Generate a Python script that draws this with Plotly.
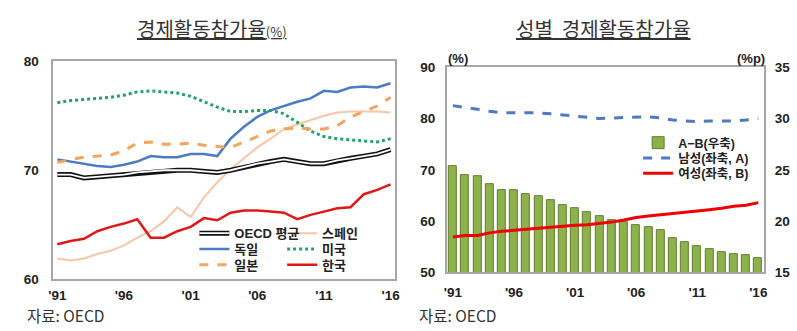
import plotly.graph_objects as go

# ---------------- data ----------------
years = list(range(1991, 2017))
tick_years = [1991, 1996, 2001, 2006, 2011, 2016]
tick_text = ["'91", "'96", "'01", "'06", "'11", "'16"]

oecd = [69.6, 69.6, 69.3, 69.4, 69.5, 69.6, 69.8, 69.9, 70.0, 70.0, 70.0, 69.9, 69.8,
        70.0, 70.3, 70.6, 70.8, 71.0, 70.8, 70.6, 70.6, 70.9, 71.1, 71.3, 71.5, 71.9]
spain = [61.9, 61.7, 61.9, 62.3, 62.6, 63.1, 63.8, 64.4, 65.3, 66.6, 65.7, 67.5, 68.9,
         70.1, 71.1, 72.1, 72.9, 73.8, 74.2, 74.6, 75.0, 75.3, 75.4, 75.4, 75.4, 75.3]
germany = [71.0, 70.8, 70.6, 70.4, 70.3, 70.5, 70.8, 71.3, 71.2, 71.2, 71.5, 71.5, 71.3,
           72.9, 74.0, 74.9, 75.5, 75.9, 76.3, 76.6, 77.3, 77.2, 77.6, 77.7, 77.6, 78.0]
usa = [76.2, 76.4, 76.5, 76.6, 76.7, 76.9, 77.2, 77.3, 77.2, 77.1, 76.8, 76.3, 75.8,
       75.4, 75.4, 75.5, 75.5, 75.2, 74.4, 73.6, 73.1, 72.9, 72.8, 72.7, 72.6, 72.9]
japan = [70.7, 71.0, 71.2, 71.3, 71.4, 71.8, 72.5, 72.6, 72.4, 72.4, 72.5, 72.3, 72.2,
         72.1, 72.6, 73.1, 73.6, 73.8, 73.9, 73.8, 73.8, 74.1, 74.9, 75.4, 75.9, 76.7]
korea = [63.2, 63.5, 63.7, 64.4, 64.8, 65.1, 65.5, 63.8, 63.8, 64.4, 64.8, 65.6, 65.4,
         66.1, 66.3, 66.3, 66.2, 66.1, 65.5, 65.9, 66.2, 66.5, 66.6, 67.8, 68.2, 68.7]

gap = [25.4, 24.5, 24.4, 23.6, 23.0, 23.0, 22.6, 22.4, 22.0, 21.6, 21.3, 20.9, 20.5,
       20.1, 19.9, 19.6, 19.4, 19.1, 18.3, 17.9, 17.6, 17.3, 17.0, 16.8, 16.7, 16.4]
male = [82.5, 82.2, 81.8, 81.4, 81.1, 81.1, 81.1, 81.1, 80.9, 80.7, 80.5, 80.2, 80.0,
        80.1, 80.2, 80.3, 80.3, 80.1, 79.7, 79.5, 79.4, 79.5, 79.5, 79.5, 79.7, 80.0]
female = [56.9, 57.2, 57.2, 57.7, 58.0, 58.2, 58.5, 58.7, 58.9, 59.0, 59.2, 59.3, 59.5,
          59.8, 60.2, 60.7, 61.0, 61.3, 61.5, 61.7, 61.9, 62.2, 62.5, 62.9, 63.1, 63.6]

# ---------------- figure ----------------
W, H = 797, 331
def px(x):
    return x / W
def py(y):
    return 1 - y / H

KR = "Noto Sans CJK KR"
LAT = "Liberation Sans, Noto Sans CJK KR"
FRAME = "#A6A6A6"

fig = go.Figure()

# left chart lines
fig.add_trace(go.Scatter(x=years, y=spain, mode="lines", name="스페인",
                         line=dict(color="#F6C6A6", width=2), legend="legend2",
                         xaxis="x", yaxis="y"))
fig.add_trace(go.Scatter(x=years, y=oecd, mode="lines", name="OECD 평균",
                         line=dict(color="#111111", width=5), legend="legend11",
                         xaxis="x", yaxis="y"))
fig.add_trace(go.Scatter(x=years, y=oecd, mode="lines", name=" ",
                         line=dict(color="#FFFFFF", width=1.8), legend="legend12",
                         xaxis="x", yaxis="y", hoverinfo="skip"))
fig.add_trace(go.Scatter(x=years, y=germany, mode="lines", name="독일",
                         line=dict(color="#4A7CC4", width=2.5), legend="legend3",
                         xaxis="x", yaxis="y"))
fig.add_trace(go.Scatter(x=years, y=usa, mode="lines", name="미국",
                         line=dict(color="#1FA463", width=3, dash="dot"), legend="legend4",
                         xaxis="x", yaxis="y"))
fig.add_trace(go.Scatter(x=years, y=japan, mode="lines", name="일본",
                         line=dict(color="#F2A55E", width=3, dash="dash"), legend="legend5",
                         xaxis="x", yaxis="y"))
fig.add_trace(go.Scatter(x=years, y=korea, mode="lines", name="한국",
                         line=dict(color="#E01818", width=2.5), legend="legend6",
                         xaxis="x", yaxis="y"))

# right chart
fig.add_trace(go.Bar(x=years, y=gap, name="A−B(우축)", width=0.66,
                     marker=dict(color="#8DB14B", line=dict(color="#5F7F2C", width=1)),
                     legend="legend7", xaxis="x2", yaxis="y2"))
fig.add_trace(go.Scatter(x=years, y=male, mode="lines", name="남성(좌축, A)",
                         line=dict(color="#4F79C0", width=3, dash="dash"), legend="legend8",
                         xaxis="x2", yaxis="y3"))
fig.add_trace(go.Scatter(x=years, y=female, mode="lines", name="여성(좌축, B)",
                         line=dict(color="#F00000", width=3), legend="legend9",
                         xaxis="x2", yaxis="y3"))

tickfont = dict(family="Liberation Sans", size=13.5, color="#222222", weight="bold")
axis_common = dict(showgrid=False, zeroline=False, showline=True, linecolor=FRAME,
                   linewidth=1.5, ticks="", tickfont=tickfont)

def leg(text_x, y, size=13):
    return dict(x=px(text_x - 40), y=py(y), xanchor="left", yanchor="middle",
                bgcolor="rgba(0,0,0,0)", borderwidth=0,
                font=dict(family=LAT, size=size, color="#222222", weight="bold"),
                orientation="v", itemclick=False, itemdoubleclick=False)

fig.update_layout(
    width=W, height=H, margin=dict(l=0, r=0, t=0, b=0),
    paper_bgcolor="white", plot_bgcolor="white",
    showlegend=True, bargap=0,
    xaxis=dict(domain=[px(49), px(395)], range=[1990.7, 2016.3], anchor="y",
               tickvals=tick_years, ticktext=tick_text, mirror=True,
               ticklabelstandoff=3, **axis_common),
    yaxis=dict(domain=[py(285), py(57)], range=[60, 80], dtick=10, anchor="x",
               mirror=True, ticklabelstandoff=10, **axis_common),
    xaxis2=dict(domain=[px(448), px(770)], range=[1990.5, 2016.5], anchor="y2",
                tickvals=tick_years, ticktext=tick_text, mirror=True,
                ticklabelstandoff=7, **axis_common),
    yaxis2=dict(domain=[py(278), py(63)], range=[15, 35], dtick=5, anchor="x2",
                side="right", ticklabelstandoff=6, **axis_common),
    yaxis3=dict(range=[50, 90], dtick=10, anchor="x2", overlaying="y2",
                side="left", ticklabelstandoff=7, **axis_common),
    legend11=leg(232, 237),
    legend12=leg(232, 237),
    legend2=leg(321, 237),
    legend3=leg(232, 253.5),
    legend4=leg(321, 253.5),
    legend5=leg(232, 270),
    legend6=leg(321, 270),
    legend7=leg(682, 142.5, 12.5),
    legend8=leg(682, 158.5, 12.5),
    legend9=leg(682, 174.5, 12.5),
)

title_font = dict(family=KR, size=20, color="#333333")
fig.add_annotation(x=px(210), y=py(22), xref="paper", yref="paper", showarrow=False,
                   xanchor="center", yanchor="middle", font=title_font,
                   text="<u>경제활동참가율<span style='font-size:13px'>(%)</span></u>")
fig.add_annotation(x=px(607), y=py(22), xref="paper", yref="paper", showarrow=False,
                   xanchor="center", yanchor="middle", font=title_font,
                   text="<u>성별  경제활동참가율</u>")

src_font = dict(family=KR, size=15.5, color="#333333")
fig.add_annotation(x=px(20), y=py(322.5), xref="paper", yref="paper", showarrow=False,
                   xanchor="left", yanchor="middle", font=src_font, text="자료: OECD")
fig.add_annotation(x=px(418), y=py(322.5), xref="paper", yref="paper", showarrow=False,
                   xanchor="left", yanchor="middle", font=src_font, text="자료: OECD")

unit_font = dict(family=LAT, size=13, color="#222222", weight="bold")
fig.add_annotation(x=px(459), y=py(54), xref="paper", yref="paper", showarrow=False,
                   xanchor="center", yanchor="middle", font=unit_font, text="(%)")
fig.add_annotation(x=px(756), y=py(54), xref="paper", yref="paper", showarrow=False,
                   xanchor="center", yanchor="middle", font=unit_font, text="(%p)")

fig.write_html("out.html")
